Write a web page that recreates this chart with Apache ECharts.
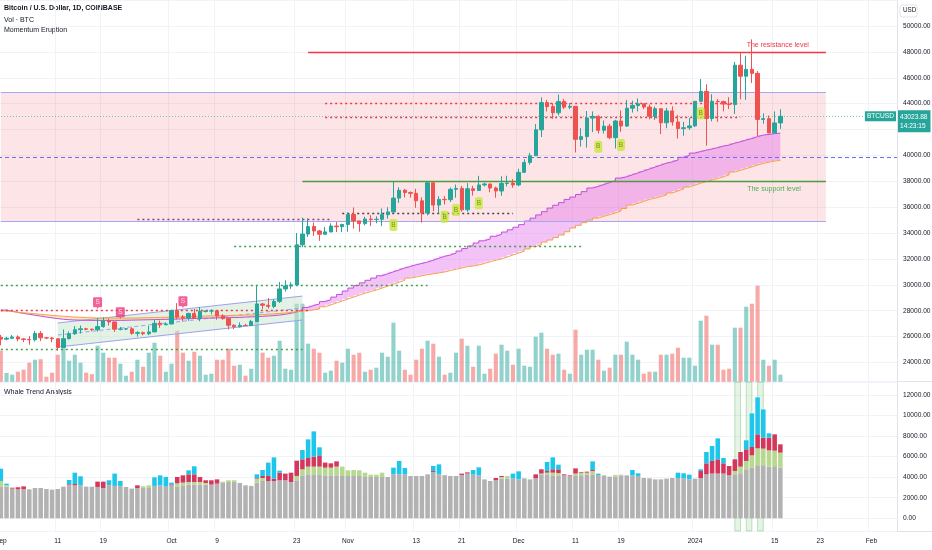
<!DOCTYPE html>
<html><head><meta charset="utf-8">
<script src="https://cdn.jsdelivr.net/npm/echarts/dist/echarts.min.js"></script>
<style>html,body{margin:0;padding:0;background:#fff}#c{width:932px;height:550px}</style>
</head><body><div id="c"></div>
<script>
const FONT = "'Liberation Sans',Arial,sans-serif";
const FS = 6.6;

// ---------- categories (daily, Sep 1 2023 .. Feb 5 2024) ----------
const firstDay = '2023-09-01';
const dayCount = 158;
const categories = [];
(function(){ const d0 = new Date(firstDay + 'T00:00:00Z'); for (let k = 0; k < dayCount; k++) categories.push(new Date(d0.getTime() + k * 86400000).toISOString().slice(0, 10)); })();

const tickDates  = ['2023-09-01','2023-09-11','2023-09-19','2023-10-01','2023-10-09','2023-10-23','2023-11-01','2023-11-13','2023-11-21','2023-12-01','2023-12-11','2023-12-19','2024-01-01','2024-01-15','2024-01-23','2024-02-01'];
const tickLabels = ['Sep','11','19','Oct','9','23','Nov','13','21','Dec','11','19','2024','15','23','Feb'];

// ---------- BTCUSD daily candles [open, close, low, high] ----------
const candles = [
[25940,25800,25330,26130],[25800,25870,25710,25980],[25870,25970,25800,26120],[25970,25820,25630,26090],[25820,25780,25570,25880],
[25780,25750,25370,26030],[25750,26240,25620,26440],[26240,25900,25650,26430],[25900,25890,25800,25940],[25890,25830,25560,25970],
[25830,25160,24900,25880],[25160,25840,25140,26550],[25840,26220,25770,26400],[26220,26530,26130,26810],[26530,26600,26230,26850],
[26600,26570,26480,26670],[26570,26530,26410,26620],[26530,26770,26380,27430],[26770,27210,26680,27490],[27210,27130,26850,27380],
[27130,26570,26360,27160],[26570,26580,26480,26740],[26580,26600,26500,26640],[26600,26250,26140,26720],[26250,26300,26000,26420],
[26300,26220,26100,26390],[26220,26360,26110,26820],[26360,27030,26340,27310],[27030,26910,26670,27240],[26910,26970,26890,27090],
[26970,27990,26960,28060],[27990,27500,27330,28580],[27500,27430,27160,27670],[27430,27790,27220,27830],[27790,27410,27380,28130],
[27410,27950,27180,28280],[27950,27970,27860,28000],[27970,27990,27710,28100],[27990,27590,27300,28000],[27590,27390,27300,27730],
[27390,26870,26550,27480],[26870,26760,26560,26950],[26760,26860,26700,27100],[26860,26850,26820,26980],[26850,27160,26820,27290],
[27160,28520,27120,30000],[28520,28420,28110,28610],[28420,28330,28160,28980],[28330,28720,28190,28900],[28720,29680,28600,30220],
[29680,29910,29480,30350],[29910,29990,29690,30200],[29990,33090,29900,34000],[33090,33920,32900,35200],[33920,34500,33700,35140],
[34500,34160,33780,34820],[34160,33910,33400,34240],[33910,34090,33880,34470],[34090,34540,34050,34750],[34540,34490,34080,34850],
[34490,34660,34070,34720],[34660,35430,34100,35580],[35430,34940,34340,35980],[34940,34730,34100,34950],[34730,35080,34590,35260],
[35080,35050,34540,35380],[35050,35060,34750,35290],[35060,35420,34540,35900],[35420,35630,35110,35990],[35630,36700,35540,37970],
[36700,37310,36330,37530],[37310,37130,36750,37410],[37130,37070,36740,37220],[37070,36490,35950,37420],[36490,35550,34800,36760],
[35550,37880,35360,37980],[37880,36160,35690,37930],[36160,36600,35520,36850],[36600,36580,36200,36850],[36580,37380,36400,37520],
[37380,37450,36730,37750],[37450,35800,35650,37650],[35800,37420,35650,37860],[37420,37290,36890,37650],[37290,37720,37260,38420],
[37720,37790,37600,37890],[37790,37480,37150,37820],[37480,37250,36730,37590],[37250,37830,36880,38390],[37830,37860,37600,38430],
[37860,37720,37500,38170],[37720,38690,37620,38970],[38690,39460,38650,39700],[39460,39970,39280,40200],[39970,41980,39970,42420],
[41980,44080,41420,44490],[44080,43770,43400,44290],[43770,43290,42820,44040],[43290,44170,43090,44700],[44170,43730,43580,44370],
[43730,43790,43570,44050],[43790,41240,40230,43810],[41240,41450,40690,42100],[41450,42890,40600,43430],[42890,43020,41800,43400],
[43020,41940,41690,43090],[41940,42260,41690,42700],[42260,41370,41250,42430],[41370,42660,40540,42750],[42660,42270,41820,43480],
[42270,43650,42200,44280],[43650,43860,43310,44230],[43860,43990,43400,44400],[43990,43740,43580,44000],[43740,43020,42790,43940],
[43020,43610,42740,43780],[43610,42520,41650,43610],[42520,43440,42100,43680],[43440,42580,42300,43800],[42580,42070,41300,43130],
[42070,42140,41520,42590],[42140,42280,41960,42890],[42280,44180,42190,44190],[44180,44950,44180,45900],[44950,42850,40750,45500],
[42850,44180,42630,44730],[44180,44160,42600,44350],[44160,43970,43400,44230],[43970,43930,43580,44500],[43930,46970,43200,47220],
[46970,46120,44340,47900],[46120,46650,44300,47700],[46650,46340,45600,48970],[46340,42780,41500,46520],[42780,42840,42450,43250],
[42840,41730,41730,43080],[41730,42510,41720,43400],[42510,43023.88,42050,43570]
];

// ---------- Volume (relative units) ----------
const volumes = [31,8.7,7,10,12,19,22,22.5,5,9,27,34,21,27,19,9,7.5,36,29,24,24,18,6,10,22,15,29,39,26,10,
18,51,29,21,30,26,7,8,22,22,33,16,17,6,13,78,29,24,26,41,13,12,78,78,38,33,29,9,11,21,
19,33,27,29,10,12,14,29,25,59,31,12,7,22,33,41,38,25,7,9,29,43,36,15,36,8,13,28,37,31,
17,33,16,15,45,49,33,27,28,12,8,52,27,32,32,22,11,14,27,27,40,27,22,8,10,10,27,27,28,34,
24,24,16,61,66,37,37,12,13,54,54,75,78,96,22,16,22,7];

// ---------- Momentum Eruption bands ----------
const eruptionUpper = [28050,27960,27870,27790,27720,27650,27580,27510,27450,27390,27340,27300,27280,27270,27260,27250,27250,27250,27250,27250,
27250,27260,27270,27280,27290,27300,27310,27320,27330,27340,27350,27370,27380,27400,27410,27420,27430,27440,27450,27460,
27470,27480,27500,27520,27540,27560,27590,27620,27660,27720,27800,27900,
28050,28250,28400,28520,28700,28850,29050,29250,29520,29750,29950,30150,30350,30520,30700,30850,31000,31150,31300,31420,
31550,31650,31760,31900,32050,32200,32300,32450,32610,32800,33000,33230,33400,33550,33750,33900,34080,34250,34450,34650,
34930,35150,35400,35650,35930,36150,36350,36600,36780,36980,37200,37480,37600,37750,37900,38050,38250,38350,38500,38650,
38800,38950,39100,39250,39400,39500,39640,39850,40000,40180,40300,40400,40500,40600,40720,40800,40950,41050,41190,41300,
41450,41570,41620,41680,41720,41730];
const eruptionLower = [27975,27930,27880,27840,27800,27760,27720,27680,27640,27600,27570,27540,27510,27490,27470,27450,27440,27430,27430,27430,
27430,27430,27430,27440,27450,27460,27470,27480,27490,27500,27510,27530,27540,27560,27570,27590,27600,27610,27620,27630,
27640,27650,27660,27670,27690,27710,27730,27760,27790,27820,27860,27920,
27980,28000,28060,28130,28300,28450,28600,28750,28900,29050,29200,29350,29480,29600,29750,29900,30050,30200,30350,30520,
30600,30700,30780,30850,30920,30990,31100,31200,31300,31400,31450,31530,31650,31780,31900,32000,32150,32300,32450,32600,
32770,32950,33100,33300,33460,33650,33850,34100,34390,34600,34800,35000,35160,35300,35420,35550,35700,35900,36170,36300,
36450,36600,36700,36820,36940,37100,37250,37400,37560,37700,37850,37980,38100,38220,38350,38500,38720,38850,38980,39120,
39260,39380,39480,39560,39620,39640];

// ---------- Regression channel ----------
const channelDates = ['2023-09-11', '2023-10-24'];
const channelUpper = [27050, 29130];
const channelMid   = [26120, 28205];
const channelLower = [25190, 27280];

// ---------- Levels ----------
const zoneTop = 44900, zoneBottom = 34930, zoneEnd = '2024-01-24';
const resistanceLevel = [48000, '2023-10-25', '2024-01-24'];
const supportLevel    = [38000, '2023-10-24', '2024-01-24'];
const midDashedLevel  = 39876;
const lastPrice = 43023.88, lastTime = '14:23:15';
// [price, from, to, kind]
const dottedLevels = [
  [44050, '2023-10-28', '2024-01-09', 'red'],
  [42970, '2023-10-28', '2024-01-09', 'red'],
  [28000, '2023-09-01', '2023-10-25', 'red'],
  [35550, '2023-10-31', '2023-11-30', 'dark'],
  [35080, '2023-09-25', '2023-10-29', 'maroon'],
  [33000, '2023-10-12', '2023-12-12', 'green'],
  [29990, '2023-09-01', '2023-11-15', 'green'],
  [25040, '2023-09-01', '2023-10-24', 'green']
];

// ---------- Signals ----------
const buySignals  = [['2023-11-09',34620],['2023-11-18',35263],['2023-11-20',35780],['2023-11-24',36300],['2023-12-15',40673],['2023-12-19',40800],['2024-01-02',43254]];
const sellSignals = [['2023-09-18',28570],['2023-09-22',27800],['2023-10-03',28650]];

// ---------- Whale Trend Analysis (stacked) ----------
const whaleBase = [3080,3080,2890,2820,2820,2820,2950,2950,2850,2790,2850,3080,3150,3210,3210,3080,3080,3050,2950,3150,
3150,3150,3050,2890,2950,2950,2950,3150,3210,3080,3210,3050,3210,3280,3280,3280,3280,3280,3370,3440,
3530,3530,3440,3210,3150,3470,3630,3630,3630,3700,3700,3530,3700,4180,4280,4280,4280,4180,4180,4180,
4120,4120,4120,4120,4020,4020,4020,4020,4020,4280,4280,4280,4120,4120,4120,4280,4510,4280,4200,4120,
4120,4220,4350,4250,4180,3790,3630,3700,3860,3860,3890,3790,3890,3790,3890,4280,4280,4180,4180,4180,
4120,4120,4120,4280,4280,4220,4180,4050,4050,4180,4180,4180,4120,3920,3890,3790,3790,3860,3920,3920,
3890,3790,3860,3920,4280,4350,4350,4350,4180,4280,4380,4770,4930,5160,5160,5030,5070,4930];
const whaleGreen = {0:550,1:130,12:60,19:60,25:160,26:260,31:350,32:260,33:250,34:250,35:250,36:160,39:130,40:170,41:170,45:390,46:290,
52:420,53:590,54:750,55:750,56:750,57:750,58:750,59:850,60:910,61:550,62:580,63:550,64:420,65:230,66:230,67:420,88:160,89:260,
95:70,96:160,97:260,98:230,101:230,102:320,103:160,104:320,108:170,109:70,129:320,130:650,131:810,132:1200,133:1650,134:1620,135:1580,136:1510,137:1460};
const whaleRed = {2:90,3:200,4:290,12:100,13:130,17:520,18:620,19:30,24:260,30:90,31:620,32:710,33:750,34:750,35:490,36:260,37:420,38:420,
45:60,46:200,47:490,48:230,49:740,50:650,51:910,52:1490,53:970,54:840,55:960,56:1030,57:490,58:420,59:510,76:90,81:130,82:120,87:220,88:100,
94:390,95:420,96:160,97:330,98:360,99:100,100:60,101:510,102:70,103:100,104:100,123:680,124:1070,125:1230,126:1390,127:1000,128:910,
129:1140,130:1420,131:1130,132:810,133:1360,134:1070,135:1240,136:1590,137:810};
const whaleCyan = {0:1200,1:160,12:420,13:1100,14:880,19:460,20:1200,21:480,27:840,28:970,29:940,30:170,33:390,34:780,45:360,46:580,47:1300,
48:2070,49:200,53:910,54:1810,55:2470,56:850,69:650,70:1300,71:620,76:490,77:970,83:450,84:780,90:460,91:780,96:880,97:1160,98:450,
104:840,105:130,111:520,112:260,119:520,120:490,121:460,123:170,124:1100,125:1460,126:2040,127:520,131:880,132:3270,133:3600,134:2750,135:420};
const whaleHighlightDates = ['2024-01-08','2024-01-10','2024-01-12'];

// ================= build =================
const UP = '#26a69a', DOWN = '#ef5350';
const tickSet = new Set(tickDates);
const tickMap = {}; tickDates.forEach((d, k) => tickMap[d] = tickLabels[k]);
const dense = obj => whaleBase.map((_, i) => obj[i] || 0);
const levelStyle = {
  red:    {color:'#f23645', type:[2,3], width:1.3},
  dark:   {color:'#4a3f48', type:[2,3], width:1.3},
  maroon: {color:'#8b3f7a', type:[2,3], width:1.3},
  green:  {color:'#43a047', type:[2,3], width:1.3}
};
const idx = d => categories.indexOf(d);

const markLines = [];
markLines.push([{coord:[categories[0], zoneTop], lineStyle:{color:'#a3a7f5', width:1, type:'solid'}}, {coord:[zoneEnd, zoneTop]}]);
markLines.push([{coord:[categories[0], zoneBottom], lineStyle:{color:'#a3a7f5', width:1, type:'solid'}}, {coord:[zoneEnd, zoneBottom]}]);
markLines.push({yAxis: midDashedLevel, lineStyle:{color:'#6a6cf2', width:1, type:[4,3]}});
dottedLevels.forEach(l => markLines.push([{coord:[l[1], l[0]], lineStyle:levelStyle[l[3]]}, {coord:[l[2], l[0]]}]));
markLines.push([{coord:[resistanceLevel[1], resistanceLevel[0]], lineStyle:{color:'#f23645', width:1.3, type:'solid'},
  label:{show:true, position:'insideEndTop', formatter:'The resistance level', color:'#f23645', fontSize:7, fontFamily:FONT, distance:[17,3]}},
  {coord:[resistanceLevel[2], resistanceLevel[0]]}]);
markLines.push([{coord:[supportLevel[1], supportLevel[0]], lineStyle:{color:'#4e9a3e', width:1.3, type:'solid'},
  label:{show:true, position:'insideEndBottom', formatter:'The support level', color:'#4caf50', fontSize:7, fontFamily:FONT, distance:[25,4]}},
  {coord:[supportLevel[2], supportLevel[0]]}]);
markLines.push({yAxis: lastPrice, lineStyle:{color:'rgba(38,166,154,0.6)', width:1, type:[1,2]},
  label:{show:true, position:'end', formatter: lastPrice.toFixed(2) + '\n' + lastTime, backgroundColor:UP, color:'#fff',
    fontSize:FS, lineHeight:9, padding:[2,3,2,2], distance:1, fontFamily:FONT, offset:[0,5]}});
markLines.push({yAxis: lastPrice, lineStyle:{color:'transparent', width:0},
  label:{show:true, position:'insideEnd', formatter:'BTCUSD', backgroundColor:UP, color:'#fff',
    fontSize:FS, padding:[2,2,1,2], distance:1, fontFamily:FONT}});

const volData = volumes.map((v, i) => ({value: v, itemStyle:{color: candles[i][1] >= candles[i][0] ? 'rgba(38,166,154,0.5)' : 'rgba(239,83,80,0.5)'}}));

const axisLabelStyle = {color:'#131722', fontSize:FS, fontFamily:FONT};
const gridLine = {show:true, lineStyle:{color:'#f0f3fa', width:1}};
const gridBase = {left:-2, right:35, outerBoundsMode:'none', containLabel:false};

const option = {
  animation: false,
  backgroundColor: '#ffffff',
  grid: [
    Object.assign({top:0, height:381}, gridBase),
    Object.assign({top:281.7, height:100}, gridBase),
    Object.assign({top:382, height:149}, gridBase)
  ],
  xAxis: [
    {type:'category', gridIndex:0, data:categories, boundaryGap:true, axisTick:{show:false}, axisLabel:{show:false},
     axisLine:{show:false}, splitLine:{show:true, interval:(i, v) => tickSet.has(v), lineStyle:{color:'#f0f3fa'}}},
    {type:'category', gridIndex:1, data:categories, show:false},
    {type:'category', gridIndex:2, data:categories, boundaryGap:true, axisTick:{show:false},
     axisLine:{show:false},
     axisLabel:Object.assign({show:true, interval:(i, v) => tickSet.has(v), formatter: v => tickMap[v] || '', margin:7, hideOverlap:false}, axisLabelStyle),
     splitLine:{show:true, interval:(i, v) => tickSet.has(v), lineStyle:{color:'#f0f3fa'}}}
  ],
  yAxis: [
    {type:'value', gridIndex:0, position:'right', min:22566, max:52010, splitNumber:15,
     axisLine:{show:true, lineStyle:{color:'#e0e3eb'}}, axisTick:{show:false},
     axisLabel:Object.assign({margin:6, formatter: v => (v % 2000 === 0 && v >= 24000 && v <= 50000) ? v.toFixed(2) : ''}, axisLabelStyle),
     splitLine:gridLine},
    {type:'value', gridIndex:1, min:0, max:100, show:false},
    {type:'value', gridIndex:2, position:'right', min:-1236, max:13265, splitNumber:7,
     axisLine:{show:true, lineStyle:{color:'#e0e3eb'}}, axisTick:{show:false},
     axisLabel:Object.assign({margin:6, formatter: v => (v % 2000 === 0 && v >= 0 && v <= 12000) ? v.toFixed(2) : ''}, axisLabelStyle),
     splitLine:gridLine}
  ],
  series: [
    {type:'bar', xAxisIndex:1, yAxisIndex:1, data:volData, barWidth:'72%', z:1, silent:true},
    {type:'line', xAxisIndex:0, yAxisIndex:0, data:categories.map(() => '-'), z:1, clip:false, silent:true, showSymbol:false,
     markArea:{silent:true, itemStyle:{color:'rgba(242,54,69,0.13)'}, data:[[{coord:[categories[0], zoneBottom]}, {coord:[zoneEnd, zoneTop]}]]},
     markLine:{silent:true, symbol:['none','none'], label:{show:false}, data:markLines}},
    {type:'custom', xAxisIndex:0, yAxisIndex:0, z:2, silent:true, data:[[idx(channelDates[0])]],
     renderItem:(params, api) => {
       const a = idx(channelDates[0]), b = idx(channelDates[1]);
       const u0 = api.coord([a, channelUpper[0]]), u1 = api.coord([b, channelUpper[1]]);
       const l0 = api.coord([a, channelLower[0]]), l1 = api.coord([b, channelLower[1]]);
       const m0 = api.coord([a, channelMid[0]]), m1 = api.coord([b, channelMid[1]]);
       const ln = (p, q, dash) => ({type:'line', shape:{x1:p[0], y1:p[1], x2:q[0], y2:q[1]}, style:{stroke:'#9aa3f2', lineWidth:1, lineDash:dash}});
       return {type:'group', children:[
         {type:'polygon', shape:{points:[u0, u1, l1, l0]}, style:{fill:'rgba(200,230,201,0.5)'}},
         ln(u0, u1, null), ln(l0, l1, null), ln(m0, m1, [4,3])
       ]};
     }},
    {type:'custom', xAxisIndex:0, yAxisIndex:0, z:2, silent:true, data:[[0]],
     renderItem:(params, api) => {
       const kids = [];
       let s = 0;
       const sign = i => eruptionUpper[i] >= eruptionLower[i];
       const flush = (from, to) => {
         const top = [], bot = [];
         for (let i = from; i <= to; i++) { top.push(api.coord([i, eruptionUpper[i]])); top.push(api.coord([i + 1, eruptionUpper[i]])); }
         for (let i = to; i >= from; i--) { bot.push(api.coord([i + 1, eruptionLower[i]])); bot.push(api.coord([i, eruptionLower[i]])); }
         kids.push({type:'polygon', shape:{points: top.concat(bot)}, style:{fill: sign(from) ? 'rgba(226,110,236,0.42)' : 'rgba(255,183,77,0.32)'}});
       };
       for (let i = 1; i < eruptionUpper.length - 1; i++) { if (sign(i) !== sign(s)) { flush(s, i - 1); s = i; } }
       flush(s, eruptionUpper.length - 2);
       return {type:'group', children:kids};
     }},
    {type:'line', xAxisIndex:0, yAxisIndex:0, data:eruptionUpper, step:'end', showSymbol:false, z:3, silent:true,
     lineStyle:{color:'#c04fdc', width:1}},
    {type:'line', xAxisIndex:0, yAxisIndex:0, data:eruptionLower, step:'end', showSymbol:false, z:3, silent:true,
     lineStyle:{color:'#f5a04a', width:1}},
    {type:'candlestick', xAxisIndex:0, yAxisIndex:0, data:candles, barWidth:'68%', z:5,
     itemStyle:{color:UP, color0:DOWN, borderColor:UP, borderColor0:DOWN, borderWidth:1}},
    {type:'scatter', xAxisIndex:0, yAxisIndex:0, data:buySignals, z:6, symbol:'roundRect', symbolSize:[8,12],
     itemStyle:{color:'#c8e63a'}, label:{show:true, position:'inside', formatter:'B', color:'#5b7d12', fontSize:6.5, fontFamily:FONT}},
    {type:'scatter', xAxisIndex:0, yAxisIndex:0, data:sellSignals, z:6,
     symbol:'path://M1,0 H9 Q10,0 10,1 V9 Q10,10 9,10 H6 L5,12 L4,10 H1 Q0,10 0,9 V1 Q0,0 1,0 Z', symbolSize:[9,12],
     itemStyle:{color:'#ef3a7e'}, label:{show:true, position:'inside', formatter:'S', color:'#fff', fontSize:6.5, fontFamily:FONT, offset:[0,-1]}},
    {type:'custom', xAxisIndex:2, yAxisIndex:2, z:1, silent:true, data:whaleHighlightDates.map(d => [idx(d)]),
     renderItem:(params, api) => {
       const i = api.value(0);
       const a = api.coord([i, 13265]), b = api.coord([i + 1, -1236]);
       return {type:'rect', shape:{x: a[0], y: a[1], width: b[0] - a[0], height: b[1] - a[1]},
               style:{fill:'rgba(76,175,80,0.14)', stroke:'rgba(76,175,80,0.35)', lineWidth:1}};
     }},
    {type:'bar', xAxisIndex:2, yAxisIndex:2, stack:'w', data:whaleBase, barWidth:'80%', itemStyle:{color:'#b2b2b2'}, z:2, silent:true},
    {type:'bar', xAxisIndex:2, yAxisIndex:2, stack:'w', data:dense(whaleGreen), barWidth:'80%', itemStyle:{color:'#b7d88f'}, z:2, silent:true},
    {type:'bar', xAxisIndex:2, yAxisIndex:2, stack:'w', data:dense(whaleRed), barWidth:'80%', itemStyle:{color:'#d5375c'}, z:2, silent:true},
    {type:'bar', xAxisIndex:2, yAxisIndex:2, stack:'w', data:dense(whaleCyan), barWidth:'80%', itemStyle:{color:'#1fc6ec'}, z:2, silent:true}
  ],
  graphic: [
    {type:'line', shape:{x1:0, y1:381.5, x2:932, y2:381.5}, style:{stroke:'#e0e3eb', lineWidth:1}, silent:true},
    {type:'line', shape:{x1:0, y1:531.5, x2:932, y2:531.5}, style:{stroke:'#e0e3eb', lineWidth:1}, silent:true},
    {type:'text', left:4, top:5, style:{text:'Bitcoin / U.S. Dollar, 1D, COINBASE', fontSize:7, fontWeight:'bold', fontFamily:FONT, fill:'#131722'}},
    {type:'text', left:4, top:16.5, style:{text:'Vol · BTC', fontSize:7, fontFamily:FONT, fill:'#131722'}},
    {type:'text', left:4, top:27, style:{text:'Momentum Eruption', fontSize:7, fontFamily:FONT, fill:'#131722'}},
    {type:'text', left:4, top:389, style:{text:'Whale Trend Analysis', fontSize:7, fontFamily:FONT, fill:'#131722'}},
    {type:'rect', shape:{x:900, y:5, width:17, height:12, r:2}, style:{fill:'#fff', stroke:'#e0e3eb', lineWidth:1}, silent:true},
    {type:'text', x:903, y:7.5, style:{text:'USD', fontSize:6.3, fontFamily:FONT, fill:'#131722'}}
  ]
};

const chart = echarts.init(document.getElementById('c'), null, {renderer:'canvas'});
chart.setOption(option);
</script></body></html>
